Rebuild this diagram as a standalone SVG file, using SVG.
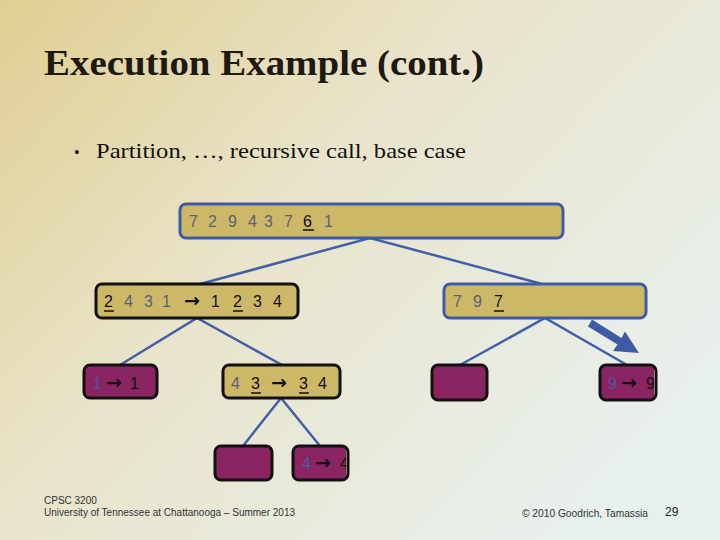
<svg xmlns="http://www.w3.org/2000/svg" width="720" height="540" viewBox="0 0 720 540">
<defs>
<linearGradient id="bg" x1="0" y1="0" x2="1" y2="0.7">
<stop offset="0" stop-color="#DFCF92"/>
<stop offset="0.45" stop-color="#E9E4CB"/>
<stop offset="1" stop-color="#E8F0EE"/>
</linearGradient>
<clipPath id="c9"><rect x="600" y="365" width="54" height="35"/></clipPath>
<clipPath id="c4"><rect x="293" y="446" width="53" height="34"/></clipPath>
<style>
.gold{fill:#CDB868}
.mag{fill:#8B2462}
.bk{stroke:#111;stroke-width:3}
.bl{stroke:#3E5CA6;stroke-width:3}
.t{font-family:"Liberation Sans",Arial,sans-serif;font-size:16px}
.g{fill:#5A6078}
.b{fill:#111}
.u{stroke:#111;stroke-width:1.5}
.bb{fill:#4A58A8}
.arr{font-family:"DejaVu Sans","Liberation Sans",sans-serif;font-size:19px;font-weight:bold;fill:#111}
.ft{font-family:"Liberation Sans",Arial,sans-serif;font-size:10px;fill:#333}
</style>
</defs>
<rect width="720" height="540" fill="url(#bg)"/>
<text x="44" y="75" font-family="'Liberation Serif',serif" font-weight="bold" font-size="35" fill="#1E1912" textLength="440" lengthAdjust="spacingAndGlyphs">Execution Example (cont.)</text>
<text x="74" y="158" font-family="'Liberation Serif',serif" font-size="16" fill="#111">•</text>
<text x="96" y="158" font-family="'Liberation Serif',serif" font-size="22" fill="#111" textLength="370" lengthAdjust="spacingAndGlyphs">Partition, …, recursive call, base case</text>

<g id="connectors" fill="none" stroke="#4060A8" stroke-width="2.5">
<polyline points="200,284 370,238 542,284"/>
<polyline points="120,365 197,318 282,365"/>
<polyline points="460,365 545,318 627,365"/>
<polyline points="243,446 281,398 320,446"/>
<polygon points="588,326.5 592,319.5 621.5,338 625,331.5 639,353 613,351 617.5,344.5" fill="#3E5CA6" stroke="none"/>
</g>

<g id="n-root">
<rect x="180" y="204" width="383" height="34" rx="6" class="gold bl"/>
<text class="t g" y="227"><tspan x="189">7</tspan><tspan x="208">2</tspan><tspan x="228">9</tspan><tspan x="248">4</tspan><tspan x="264">3</tspan><tspan x="284">7</tspan><tspan x="303" class="b">6</tspan><tspan x="324">1</tspan></text>
<line x1="303" y1="230" x2="314" y2="230" class="u"/>
</g>

<g id="n-left">
<rect x="96" y="284" width="202" height="34" rx="6" class="gold bk"/>
<text class="t g" y="307"><tspan x="104" class="b">2</tspan><tspan x="124">4</tspan><tspan x="144">3</tspan><tspan x="162">1</tspan></text>
<text class="arr" x="184" y="307">→</text>
<text class="t b" y="307"><tspan x="211">1</tspan><tspan x="233">2</tspan><tspan x="253">3</tspan><tspan x="273">4</tspan></text>
<line x1="104" y1="311" x2="114" y2="311" class="u"/>
<line x1="233" y1="311" x2="243" y2="311" class="u"/>
</g>

<g id="n-right">
<rect x="444" y="284" width="202" height="34" rx="6" class="gold bl"/>
<text class="t g" y="307"><tspan x="453">7</tspan><tspan x="473">9</tspan><tspan x="494" class="b">7</tspan></text>
<line x1="494" y1="311" x2="504" y2="311" class="u"/>
</g>

<g id="n-1">
<rect x="84" y="365" width="73" height="33" rx="6" class="mag bk"/>
<text class="t bb" x="93" y="389">1</text>
<text class="arr" x="106" y="389">→</text>
<text class="t b" x="130" y="389">1</text>
</g>

<g id="n-43">
<rect x="223" y="365" width="117" height="33" rx="6" class="gold bk"/>
<text class="t" y="389"><tspan x="231" class="g">4</tspan><tspan x="251" class="b">3</tspan></text>
<text class="arr" x="271" y="389">→</text>
<text class="t b" y="389"><tspan x="299">3</tspan><tspan x="318">4</tspan></text>
<line x1="251" y1="393" x2="261" y2="393" class="u"/>
<line x1="299" y1="393" x2="309" y2="393" class="u"/>
</g>

<g id="n-7">
<rect x="432" y="365" width="55" height="35" rx="6" class="mag bk"/>
</g>

<g id="n-9">
<g clip-path="url(#c9)">
<rect x="600" y="365" width="56" height="35" rx="6" class="mag"/>
<text class="t bb" x="608" y="389">9</text>
<text class="arr" x="621" y="389">→</text>
<text class="t b" x="646" y="389">9</text>
</g>
<rect x="600" y="365" width="56" height="35" rx="6" fill="none" class="bk"/>
</g>

<g id="n-empty">
<rect x="215" y="446" width="57" height="34" rx="6" class="mag bk"/>
</g>

<g id="n-4">
<g clip-path="url(#c4)">
<rect x="293" y="446" width="55" height="34" rx="6" class="mag"/>
<text class="t bb" x="302" y="469">4</text>
<text class="arr" x="315" y="469">→</text>
<text class="t b" x="340" y="469">4</text>
</g>
<rect x="293" y="446" width="55" height="34" rx="6" fill="none" class="bk"/>
</g>

<text class="ft" x="44" y="504">CPSC 3200</text>
<text class="ft" x="44" y="516" textLength="251" lengthAdjust="spacingAndGlyphs">University of Tennessee at Chattanooga – Summer 2013</text>
<text class="ft" x="522" y="517" textLength="126" lengthAdjust="spacingAndGlyphs">© 2010 Goodrich, Tamassia</text>
<text x="665" y="516" font-family="'Liberation Sans',Arial,sans-serif" font-size="12" fill="#222">29</text>
</svg>
